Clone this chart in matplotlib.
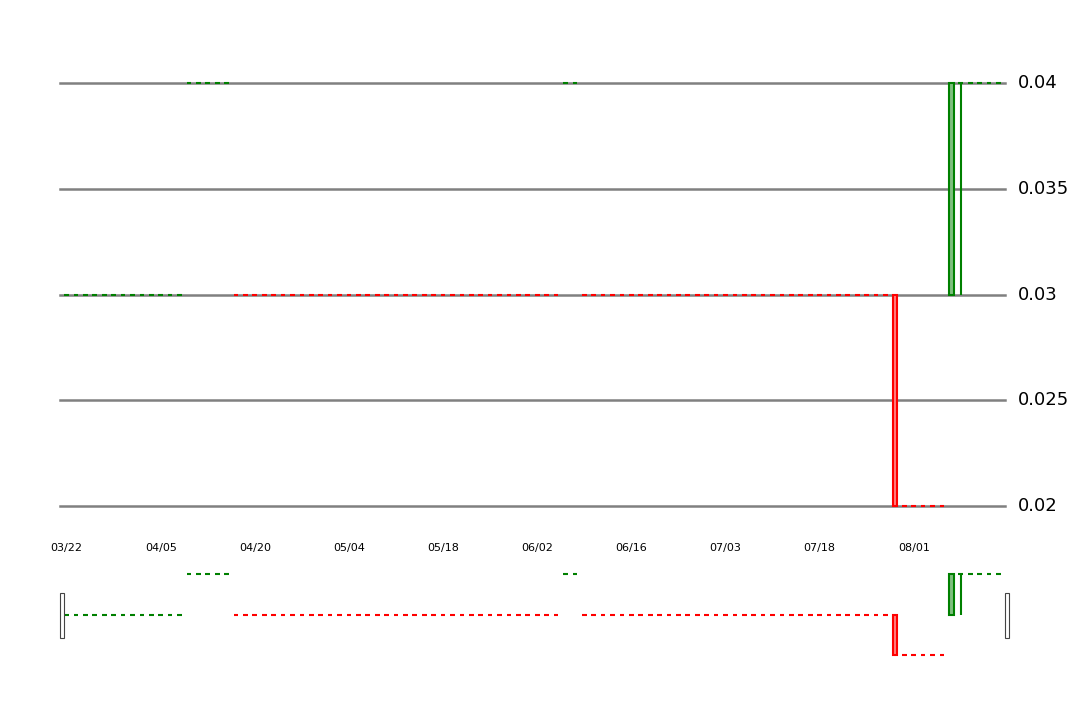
import matplotlib
matplotlib.use('Agg')
import matplotlib.pyplot as plt

# daily bars (trading days), most are flat dojis
opens = [0.03] * 13 + [0.04] * 5 + [0.03] * 35 + [0.04] * 2 + [0.03] * 33 + [0.03] + [0.02] * 5 + [0.03] + [0.04] + [0.04] * 4
closes = [0.03] * 13 + [0.04] * 5 + [0.03] * 35 + [0.04] * 2 + [0.03] * 33 + [0.02] + [0.02] * 5 + [0.04] + [0.04] + [0.04] * 4
highs = [0.03] * 13 + [0.04] * 5 + [0.03] * 35 + [0.04] * 2 + [0.03] * 33 + [0.03] + [0.02] * 5 + [0.04] + [0.04] + [0.04] * 4
lows = [0.03] * 13 + [0.04] * 5 + [0.03] * 35 + [0.04] * 2 + [0.03] * 33 + [0.02] + [0.02] * 5 + [0.03] + [0.03] + [0.04] * 4
up = [True] * 13 + [True] * 5 + [False] * 35 + [True] * 2 + [False] * 33 + [False] + [False] * 5 + [True] + [True] + [True] * 4

tick_idx = [0, 10, 20, 30, 40, 50, 60, 70, 80, 90]
tick_labels = ['03/22', '04/05', '04/20', '05/04', '05/18', '06/02', '06/16', '07/03', '07/18', '08/01']
y_ticks = [0.02, 0.025, 0.03, 0.035, 0.04]
y_labels = ['0.02', '0.025', '0.03', '0.035', '0.04']


def draw_candles(ax):
    for i, (o, c, h, l, u) in enumerate(zip(opens, closes, highs, lows, up)):
        edge = 'green' if u else 'red'
        fill = '#7fbf7f' if u else '#ff8080'
        if h > l:
            ax.vlines(i, l, h, color=edge, lw=1.5, clip_on=False, zorder=3)
        if o != c:
            ax.bar(i, c - o, bottom=o, width=0.5, color=fill, edgecolor=edge,
                   lw=1.5, clip_on=False, zorder=4)
        else:
            ax.hlines(o, i - 0.25, i + 0.25, color=edge, lw=1.5, clip_on=False, zorder=4)


fig = plt.figure(figsize=(10.8, 7.2), dpi=100)
n = len(opens)
xl = (-0.7, n - 0.3)

ax = fig.add_axes([60 / 1080, 1 - 506 / 720, 945 / 1080, 423 / 720])
ax.set_xlim(*xl)
ax.set_ylim(0.02, 0.04)
for y in y_ticks:
    ax.axhline(y, color='gray', lw=1.8, zorder=1, clip_on=False)
draw_candles(ax)
for s in ax.spines.values():
    s.set_visible(False)
ax.set_xticks([])
ax.set_yticks([])
for y, lab in zip(y_ticks, y_labels):
    ax.text(1.014, y, lab, transform=ax.get_yaxis_transform(), fontsize=13,
            va='center', ha='left')
for i, lab in zip(tick_idx, tick_labels):
    ax.text(i, 0.0180, lab, fontsize=8, ha='center', va='center')

nav = fig.add_axes([60 / 1080, 1 - 655 / 720, 945 / 1080, 81 / 720])
nav.set_xlim(*xl)
nav.set_ylim(0.02, 0.04)
draw_candles(nav)
nav.axis('off')
for xe in (xl[0] + 0.2, xl[1] + 0.2):
    nav.add_patch(plt.Rectangle((xe - 0.2, 0.0242), 0.4, 0.0111, facecolor='white',
                                edgecolor='#444444', lw=0.8, clip_on=False, zorder=5))

fig.savefig('out.png', dpi=100)
